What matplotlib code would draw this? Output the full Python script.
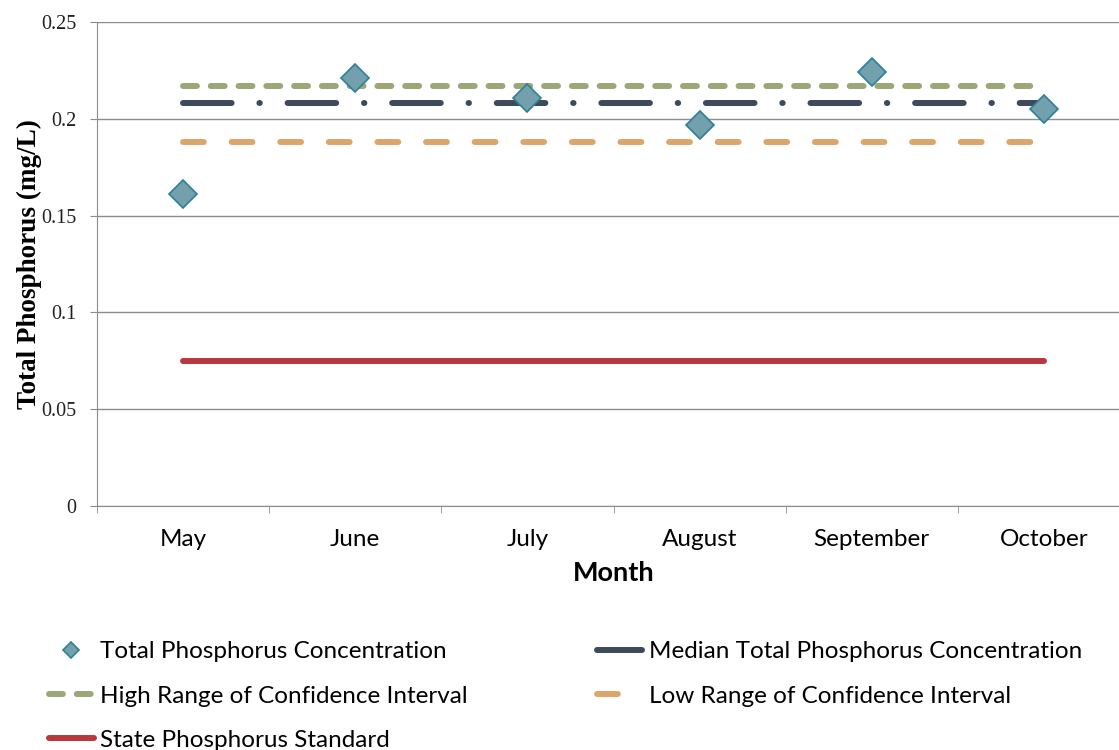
import matplotlib.pyplot as plt

MONTHS = ["May", "June", "July", "August", "September", "October"]
TP_CONC = [0.161, 0.221, 0.211, 0.197, 0.224, 0.205]
MEDIAN_TP = [0.208] * 6
HIGH_CI = [0.217] * 6
LOW_CI = [0.188] * 6
STATE_STD = [0.075] * 6
Y_TICKS = [0, 0.05, 0.1, 0.15, 0.2, 0.25]
Y_LABELS = ["0", "0.05", "0.1", "0.15", "0.2", "0.25"]

SANS = ["Lato", "DejaVu Sans"]
SERIF = ["Liberation Serif", "DejaVu Serif"]
GRID = "#8c8c8c"

plt.rcParams["lines.scale_dashes"] = False

fig = plt.figure(figsize=(11.19, 7.5), dpi=100)
ax = fig.add_axes([97 / 1119, 1 - 506 / 750, (1130 - 97) / 1119, 484 / 750])

x = list(range(len(MONTHS)))
lw = 4.3

ax.plot(x, STATE_STD, color="#b8393d", lw=lw, solid_capstyle="round",
        label="State Phosphorus Standard", zorder=3)
ax.plot(x, LOW_CI, color="#dca66a", lw=lw, dashes=(15, 20), dash_capstyle="round",
        label="Low Range of Confidence Interval", zorder=3)
ax.plot(x, MEDIAN_TP, color="#3d4a5b", lw=lw, dashes=(35, 20, 0.3, 20),
        dash_capstyle="round", solid_capstyle="round",
        label="Median Total Phosphorus Concentration", zorder=3)
ax.plot(x, HIGH_CI, color="#9ca777", lw=lw, dashes=(10, 10), dash_capstyle="round",
        label="High Range of Confidence Interval", zorder=3)
ax.plot(x, TP_CONC, ls="none", marker="D", ms=14, mfc="#72a0ad", mec="#2f7f95",
        mew=1.2, label="Total Phosphorus Concentration", zorder=4)

ax.set_xlim(-0.5, len(MONTHS) - 0.5)
ax.set_ylim(0, 0.25)
ax.set_yticks(Y_TICKS)
ax.set_yticklabels(Y_LABELS, family=SERIF, fontsize=14.5, color="#222222")
ax.set_xticks(x)
ax.set_xticklabels(MONTHS, family=SANS, fontsize=17.5)
ax.set_xticks([i - 0.5 for i in range(len(MONTHS) + 1)], minor=True)
ax.tick_params(axis="x", which="major", length=0, pad=16.5)
ax.tick_params(axis="x", which="minor", length=5, color=GRID, direction="out")
ax.tick_params(axis="y", length=5, color=GRID, direction="out", pad=10)

ax.yaxis.grid(True, color=GRID, lw=1)
ax.set_axisbelow(True)
for s in ["top", "right"]:
    ax.spines[s].set_visible(False)
for s in ["left", "bottom"]:
    ax.spines[s].set_color(GRID)

ax.set_xlabel("Month", family=SANS, fontsize=19.5, fontweight="bold", labelpad=8)
ax.set_ylabel("Total Phosphorus (mg/L)", family=SERIF, fontsize=19.5,
              fontweight="bold", labelpad=-1)

h, l = ax.get_legend_handles_labels()
order = [4, 3, 0, 2, 1]
leg = fig.legend([h[i] for i in order], [l[i] for i in order], ncol=2,
                 loc="upper left", bbox_to_anchor=(0.0326, 0.161), frameon=False,
                 borderpad=0, prop={"family": SANS, "size": 17.5}, handlelength=1.85,
                 handletextpad=0.28, columnspacing=5.3, labelspacing=0.95)
leg.legend_handles[0].set_markersize(8)

fig.savefig("out.png", dpi=100)
